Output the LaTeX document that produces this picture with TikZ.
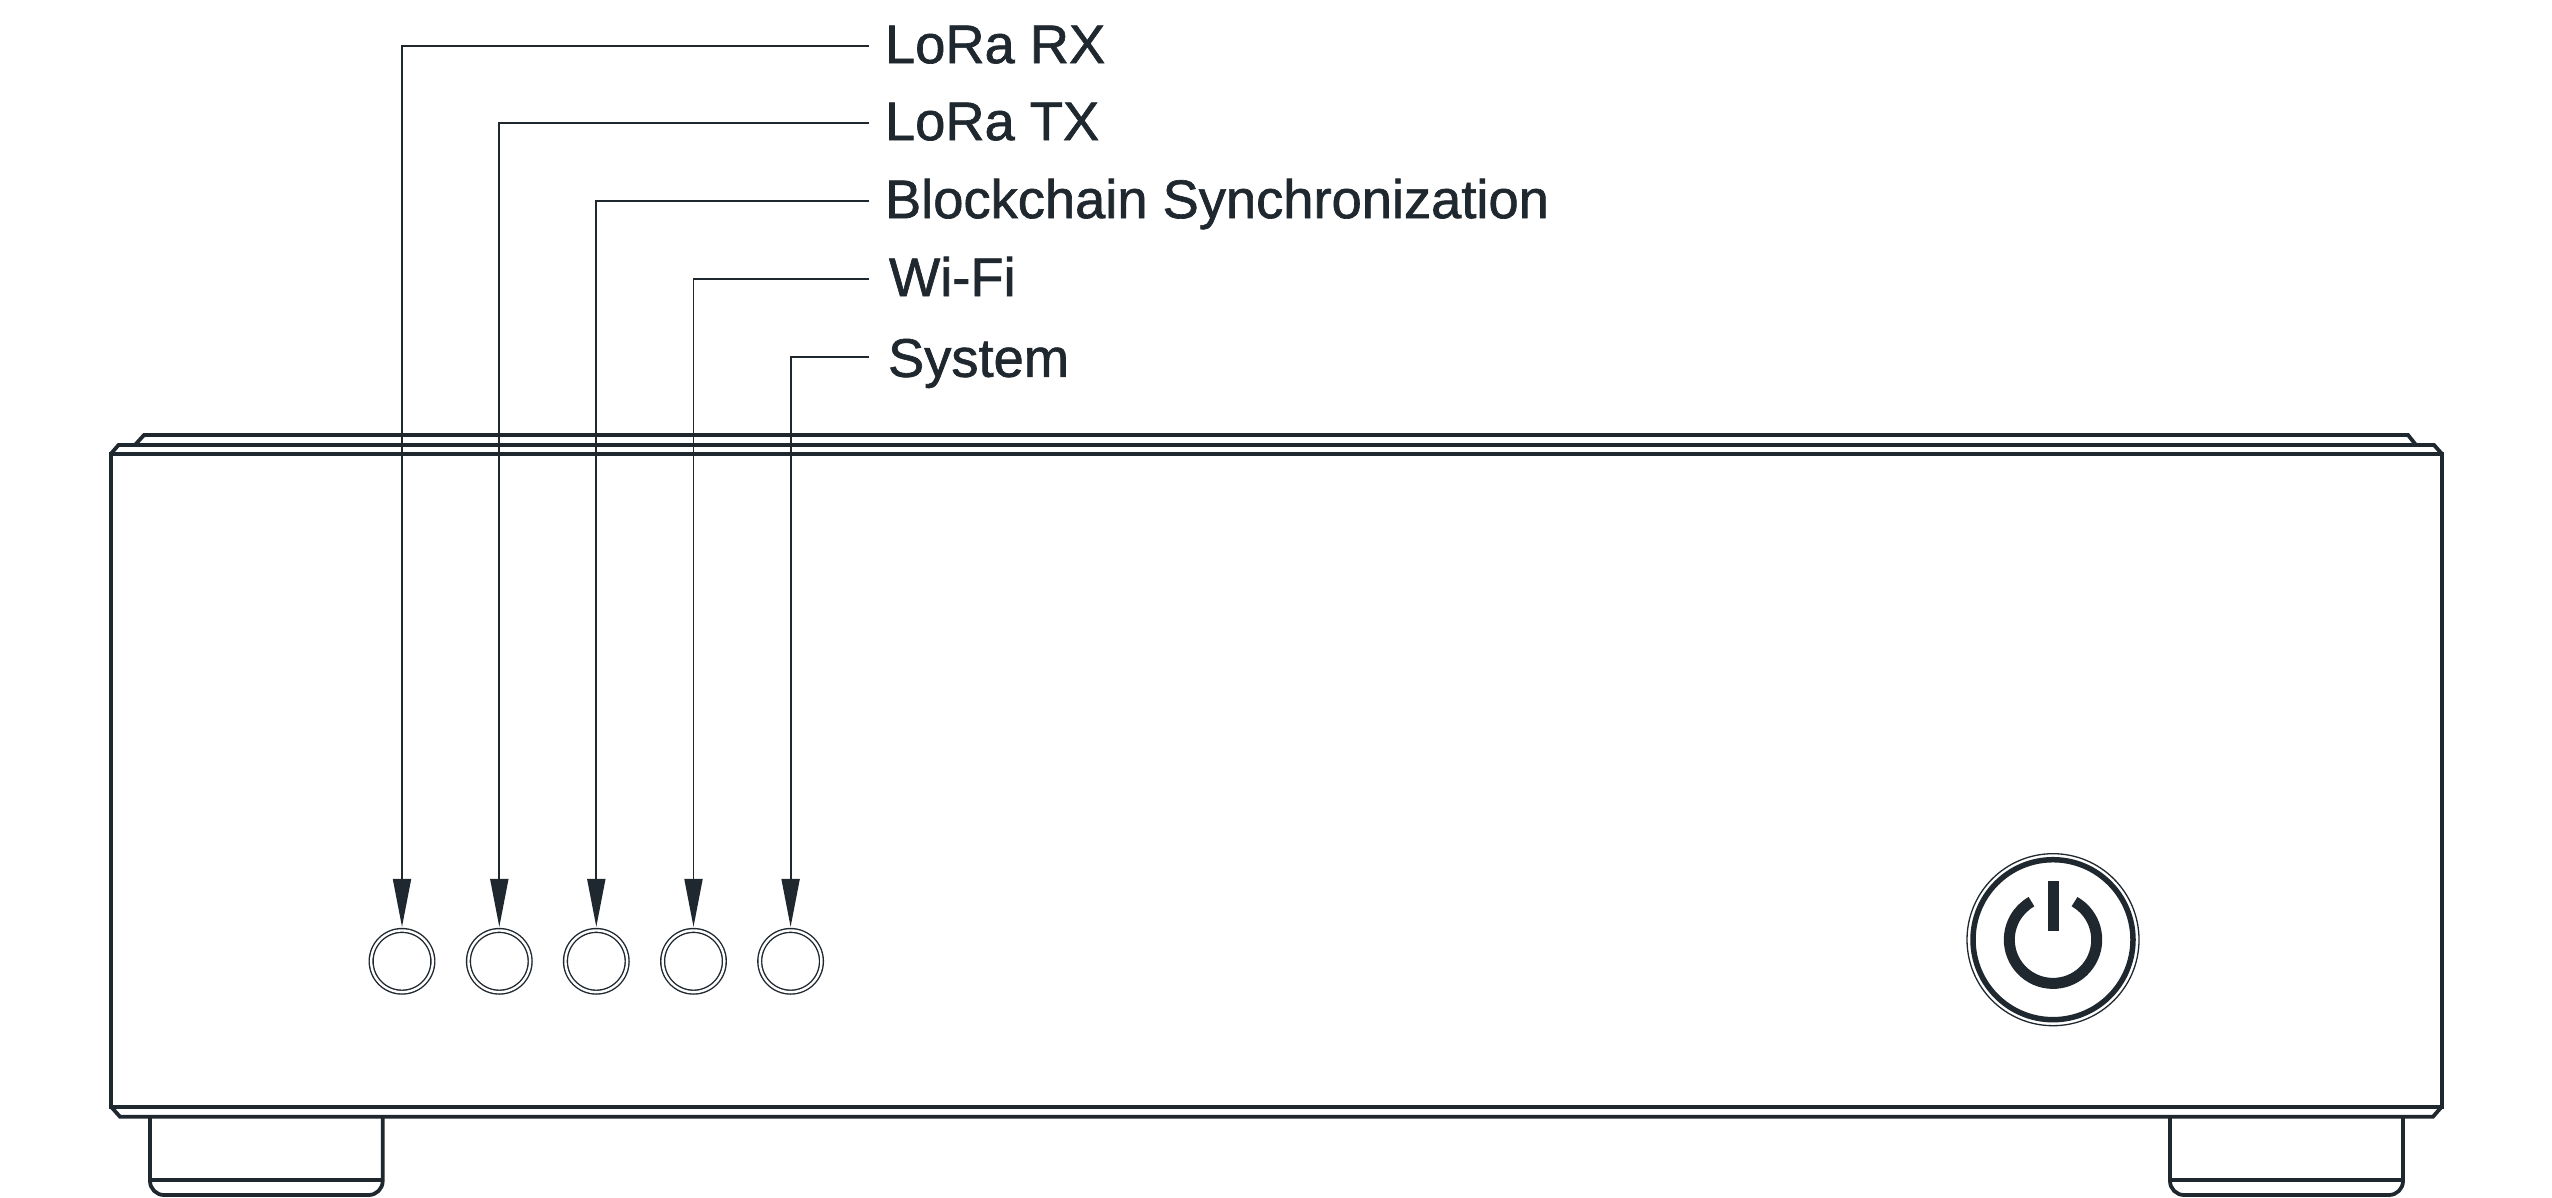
\documentclass[tikz,border=0pt]{standalone}
\usepackage{fontspec}
\setmainfont[FakeBold=1.2]{Liberation Sans}
\usetikzlibrary{arrows.meta}
\definecolor{ink}{HTML}{20282F}
\tikzset{
  x=1pt,y=-1pt,
  bodyline/.style={draw=ink,line width=3.8pt,line join=miter},
  leader/.style={draw=ink,line width=1.8pt,-{Triangle[length=48pt,width=18pt]},shorten >=3.5pt},
  led/.style={circle,draw=ink,line width=1.4pt,double=white,double distance=2.4pt,minimum size=61.7pt,inner sep=0pt,outer sep=0pt},
  callout/.style={anchor=west,inner ysep=0pt,outer sep=0pt,text=ink,font=\fontsize{54.3}{60}\selectfont,text height=41pt,text depth=7.4pt},
}
\begin{document}
\begin{tikzpicture}
\useasboundingbox (0,0) rectangle (2552,1198);
% feet
\path[bodyline,rounded corners=14pt] (150,1116.7) -- (150,1195) -- (382.7,1195) -- (382.7,1116.7);
\path[bodyline] (150,1180) -- (382.7,1180);
\path[bodyline,rounded corners=14pt] (2170,1116.7) -- (2170,1195) -- (2403,1195) -- (2403,1116.7);
\path[bodyline] (2170,1180) -- (2403,1180);
% body
\path[bodyline] (111,453.7) rectangle (2441.7,1106.7);
\path[bodyline] (111,453.7) -- (118.5,445) -- (2434,445) -- (2441.7,453.7);
\path[bodyline] (135,445) -- (144,435) -- (2408,435) -- (2416,445);
\path[bodyline] (111,1106.7) -- (120,1116.7) -- (2433,1116.7) -- (2441.7,1106.7);
% LEDs
\node[led] (led1) at (402,961.3) {};
\node[led] (led2) at (499.3,961.3) {};
\node[led] (led3) at (596.3,961.3) {};
\node[led] (led4) at (693.5,961.3) {};
\node[led] (led5) at (790.6,961.3) {};
% labels
\node[callout,inner xsep=16pt] (rx) at (869,46.3) {LoRa RX};
\node[callout,inner xsep=16pt] (tx) at (869,123.3) {LoRa TX};
\node[callout,inner xsep=16pt] (bc) at (869,201.3) {Blockchain Synchronization};
\node[callout,inner xsep=20pt] (wf) at (869,279.3) {Wi-Fi};
\node[callout,inner xsep=19pt,text height=46pt,text depth=7pt] (sy) at (869,357.3) {System};
% connectors
\path[leader] (rx.west) -| (led1.north);
\path[leader] (tx.west) -| (led2.north);
\path[leader] (bc.west) -| (led3.north);
\path[leader] (wf.west) -| (led4.north);
\path[leader] (sy.west) -| (led5.north);
% power button
\coordinate (pc) at (2053,939.7);
\node[circle,draw=ink,line width=1.3pt,minimum size=172pt,inner sep=0pt] (power) at (pc) {};
\node[circle,draw=ink,line width=5.5pt,minimum size=160pt,inner sep=0pt] (powerring) at (pc) {};
\draw[ink,line width=11pt] (pc) ++(-60.5:43.7) arc[start angle=-60.5,end angle=240.5,radius=43.7];
\fill[ink] (2048,881) rectangle (2059,930.7);
\end{tikzpicture}
\end{document}
